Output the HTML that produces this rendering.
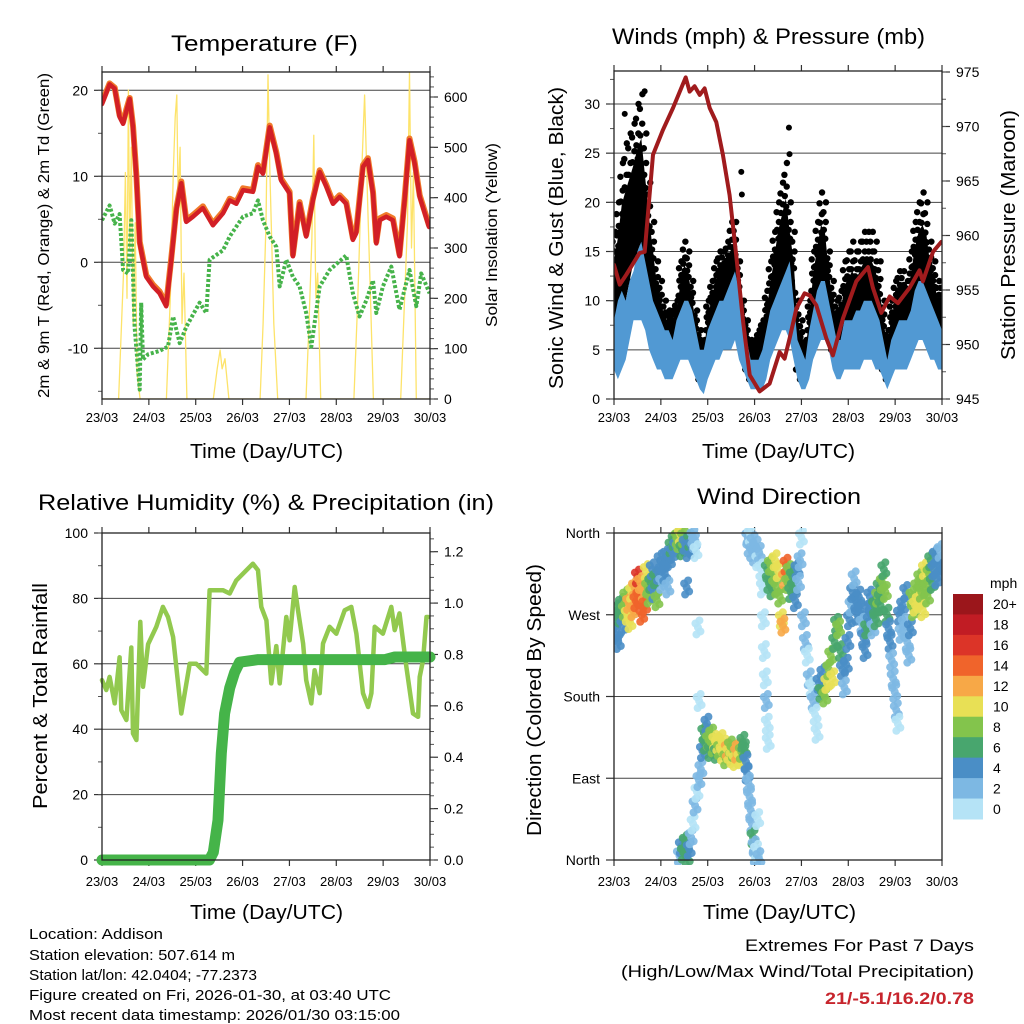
<!DOCTYPE html>
<html><head><meta charset="utf-8"><title>Weather station charts</title>
<style>
html,body{margin:0;padding:0;background:#fff;}
svg{display:block;font-family:"Liberation Sans",Arial,sans-serif;}
</style></head>
<body>
<svg id="chart" width="1024" height="1024" viewBox="0 0 1024 1024" xmlns="http://www.w3.org/2000/svg">
<rect x="0" y="0" width="1024" height="1024" fill="#fff"/>
<g id="p1"></g>
<g id="p2"></g>
<g id="p3"></g>
<g id="p4"></g>
<g id="txt">
<text x="171" y="51" font-size="22" textLength="187" lengthAdjust="spacingAndGlyphs">Temperature (F)</text>
<text x="612" y="44" font-size="22" textLength="313" lengthAdjust="spacingAndGlyphs">Winds (mph) &amp; Pressure (mb)</text>
<text x="38" y="510" font-size="22" textLength="456" lengthAdjust="spacingAndGlyphs">Relative Humidity (%) &amp; Precipitation (in)</text>
<text x="697" y="504" font-size="22" textLength="164" lengthAdjust="spacingAndGlyphs">Wind Direction</text>
<text x="190" y="458" font-size="20" textLength="153" lengthAdjust="spacingAndGlyphs">Time (Day/UTC)</text>
<text x="702" y="458" font-size="20" textLength="153" lengthAdjust="spacingAndGlyphs">Time (Day/UTC)</text>
<text x="190" y="919" font-size="20" textLength="153" lengthAdjust="spacingAndGlyphs">Time (Day/UTC)</text>
<text x="703" y="919" font-size="20" textLength="153" lengthAdjust="spacingAndGlyphs">Time (Day/UTC)</text>
<text transform="translate(49,398) rotate(-90)" font-size="16" textLength="325" lengthAdjust="spacingAndGlyphs">2m &amp; 9m T (Red, Orange) &amp; 2m Td (Green)</text>
<text transform="translate(497,327) rotate(-90)" font-size="16" textLength="184" lengthAdjust="spacingAndGlyphs">Solar Insolation (Yellow)</text>
<text transform="translate(563,389) rotate(-90)" font-size="20" textLength="302" lengthAdjust="spacingAndGlyphs">Sonic Wind &amp; Gust (Blue, Black)</text>
<text transform="translate(1015,360) rotate(-90)" font-size="20" textLength="250" lengthAdjust="spacingAndGlyphs">Station Pressure (Maroon)</text>
<text transform="translate(47,809) rotate(-90)" font-size="20" textLength="226" lengthAdjust="spacingAndGlyphs">Percent &amp; Total Rainfall</text>
<text transform="translate(541,836) rotate(-90)" font-size="20" textLength="272" lengthAdjust="spacingAndGlyphs">Direction (Colored By Speed)</text>
<text x="29" y="939" font-size="15" textLength="134" lengthAdjust="spacingAndGlyphs">Location: Addison</text>
<text x="29" y="960" font-size="15" textLength="206" lengthAdjust="spacingAndGlyphs">Station elevation: 507.614 m</text>
<text x="29" y="980" font-size="15" textLength="228" lengthAdjust="spacingAndGlyphs">Station lat/lon: 42.0404; -77.2373</text>
<text x="29" y="1000" font-size="15" textLength="362" lengthAdjust="spacingAndGlyphs">Figure created on Fri, 2026-01-30, at 03:40 UTC</text>
<text x="29" y="1020" font-size="15" textLength="371" lengthAdjust="spacingAndGlyphs">Most recent data timestamp: 2026/01/30 03:15:00</text>
<text x="745" y="951" font-size="17" textLength="229" lengthAdjust="spacingAndGlyphs">Extremes For Past 7 Days</text>
<text x="621" y="977" font-size="17" textLength="353" lengthAdjust="spacingAndGlyphs">(High/Low/Max Wind/Total Precipitation)</text>
<text x="825" y="1004" font-size="17" font-weight="bold" fill="#c7252d" textLength="149" lengthAdjust="spacingAndGlyphs">21/-5.1/16.2/0.78</text>
</g>
</svg>
<script>
// ---------- DATA ----------
const dayLabels = ["23/03","24/03","25/03","26/03","27/03","28/03","29/03","30/03"];
const tempHours = [0,3.9,6.5,9,10.8,12.5,14.2,15.9,17.6,19.3,22.7,26.1,29.5,32.9,35.5,38.1,40.6,43.2,46.6,51.7,56.8,62,65.4,68.8,72.2,77.3,79.9,82.4,85.9,89.3,91.8,96.1,97.8,101.2,104.6,108,111.5,114.9,118.3,121.7,125.1,128.5,130.2,133.7,136.2,138.8,140.5,142.2,145.6,149,152.4,155,157.5,160.1,162.7,167.5];
const temp2m = [18.4,20.7,20.2,16.9,16.1,17.6,19.0,15.7,9.9,2.2,-1.7,-2.8,-3.6,-5.1,0.3,6.1,9.2,4.7,5.3,6.3,4.3,5.7,7.2,6.8,8.4,8.2,11.1,10.3,15.7,12.6,9.5,8.0,0.7,6.8,3.0,7.2,10.5,8.8,6.8,7.6,6.8,2.6,3.4,11.1,11.9,8.0,2.2,4.9,5.3,4.9,0.7,7.2,14.2,11.5,7.6,4.1];
const temp9m = [18.6,20.8,20.3,17.1,16.3,17.8,19.1,15.9,10.1,2.4,-1.5,-2.6,-3.4,-4.9,0.5,6.3,9.4,4.9,5.5,6.5,4.5,5.9,7.4,7.0,8.6,8.4,11.3,10.5,15.9,12.8,9.7,8.2,0.9,7.0,3.2,7.4,10.7,9.0,7.0,7.8,7.0,2.8,3.6,11.3,12.1,8.2,2.4,5.1,5.5,5.1,0.9,7.4,14.4,11.7,7.8,4.3];
const dewHours = [0,3.9,6.5,9,10.8,13.3,15,16.7,19.3,20.1,21,23.6,29.5,33.8,36.4,39.8,43.2,50,53.4,55.1,62,65.4,72.2,77.3,79.9,82.4,85.9,89.3,91,94.4,97.8,101.2,104.6,107.2,111.5,116.6,125.1,128.5,131.9,135.4,138.8,140.5,143.9,148.2,152.4,157.5,161,163.5,167.8];
const dewPoint = [4.9,6.6,4.5,5.6,-0.9,-1.3,4.9,-7.5,-14.8,-4.7,-11.3,-10.7,-10.3,-9.8,-6.3,-9.4,-7.5,-4.7,-5.9,0.3,1.4,3.0,5.3,5.7,7.2,4.9,3.0,1.8,-2.8,0.3,-1.7,-2.8,-5.9,-9.8,-2.8,-0.9,0.8,-3.6,-6.3,-4.4,-2.1,-5.9,-2.8,-0.5,-5.5,-0.9,-5.1,-1.3,-3.6];
const solarHours = [0,8.5,11,12,12.8,13.5,14.2,15,16,17,18,19.5,33,35,36.5,37.5,38.3,39,40,41,42,43.5,57,59,60.5,61.5,63,65,81,82.5,84,85,86,87,88,90,104.5,106,107.5,108.5,109.5,110.5,112,129,131,133,134.5,136,137.5,139,153,155,156.5,157.5,158.5,159.5,161,168];
const solarValues = [0,0,250,450,200,614,300,500,150,350,50,0,0,200,450,560,604,400,500,150,250,0,0,60,97,60,80,0,0,150,350,644,450,300,150,0,0,150,320,524,200,250,0,0,200,450,604,400,200,0,0,200,350,650,300,450,0,0];
const windHours = [0,2,4,6,8,10,12,14,16,18,20,22,24,26,28,30,32,34,36,38,40,42,44,46,48,50,52,54,56,58,60,62,64,66,68,70,72,74,76,78,80,82,84,86,88,90,92,94,96,98,100,102,104,106,108,110,112,114,116,118,120,122,124,126,128,130,132,134,136,138,140,142,144,146,148,150,152,154,156,158,160,162,164,166,168];
const sonicLo = [3,2,3,4,6,8,8,8,7,5,4,3,3,2,2,2,3,4,4,4,3,2,1,0.5,2,3,4,4,5,5,5,6,4,3,2,1,1,1,1,2,4,5,6,7,7,6,4,2,1,1,2,4,5,6,6,5,3,2,2,3,3,3,3,3,4,4,4,3,3,2,1,2,3,3,3,3,4,5,6,6,5,4,4,3,3];
const sonicHi = [8,10,11,10,12,13,15,16,14,12,10,9,8,7,7,6,8,9,10,10,9,7,5,5,7,8,9,10,10,11,12,13,11,8,6,4,4,4,5,7,9,10,11,12,13,14,10,6,5,4,7,9,11,12,12,10,8,6,6,8,8,8,9,9,10,10,10,9,8,6,4,6,7,8,8,8,9,11,12,12,11,10,9,8,7];
const gustLo = [7,8,10,10,12,14,15,16,12,10,8,6,5,4,4,4,5,7,8,8,6,4,2,2,4,6,7,8,9,9,9,9,7,5,3,2,2,2,3,4,6,8,10,11,12,10,7,3,2,2,4,7,9,10,10,8,5,4,4,5,6,6,6,6,7,7,7,6,5,3,2,4,5,6,6,5,7,9,10,10,9,8,7,5,5];
const gustHi = [17,20,24,26,27,28,30,31,27,22,18,14,12,10,9,9,10,14,16,15,12,9,7,6,10,12,14,15,15,16,18,18,14,10,8,6,6,7,8,11,14,17,20,22,24,20,17,10,8,6,10,15,18,21,20,15,12,10,11,14,15,16,15,16,17,17,17,16,14,10,7,10,12,13,13,12,15,18,20,21,20,16,14,12,12];
const gustOutHours = [5.5,15.7,65.2,65.5,89.6,89.9];
const gustOutValues = [29,31.3,23.1,20.8,27.6,24.9];
const presHours = [0,2.9,6.3,13.1,15.7,20,25.1,30.2,36.7,38.7,41.3,43.9,46.4,49,52.4,55.8,59.2,62.6,66.1,69.5,74.6,79.7,84.8,87.4,90,93.4,97.6,100.2,103.6,108.7,112.1,117.3,124.1,130.1,132.6,136.9,141.2,145.4,151.4,156.5,158.2,163.4,167.6];
const presValues = [957.3,955.5,956.4,958.4,958.5,967.4,969.7,971.7,974.5,973.2,973.7,972.9,973.5,971.7,970.4,967.4,963.7,958.2,952.1,947.2,945.7,946.4,949.3,948.7,950.6,953.3,954.7,954.5,953.6,950.6,949.0,952.4,955.8,957.1,955.2,952.9,954.4,953.8,955.2,956.8,955.8,958.5,959.4];
const rhHours = [0,2.2,3.9,6.5,9.0,9.9,12.5,15.0,15.9,17.6,19.6,21.0,23.6,27.8,31.2,33.8,36.4,40.6,44.9,48.3,53.4,55.1,61.9,65.4,68.8,77.3,79.9,81.6,84.2,86.7,89.3,91.0,94.4,96.1,98.7,100.4,103.0,104.6,107.2,108.9,111.5,113.2,116.6,120.0,124.3,127.7,130.3,133.7,136.3,138.0,139.7,143.9,148.2,149.9,152.4,155.9,159.3,161.9,162.7,164.4,166.2,167.0];
const rhValues = [55,52,56,47.9,62,45.8,42.8,65,38.7,36.7,72.8,53,66,71.3,77.4,74.3,68.2,44.8,60,60,57,82.5,82.5,81.5,85.5,90.6,88.6,77.4,73.3,54,65.4,54,74.3,67.2,83.5,76.4,66.2,55,47.9,58,51,66.2,71.3,69.2,76.4,77.4,69.2,51,46.8,51,71.3,69.2,77.4,70.3,75.4,59,44.8,43.8,56,61,74.3,74.3];
const rainHours = [0,55,57,59.4,61.1,62.8,65.4,67.9,70.5,80,145,150,168];
const rainValues = [0,0,0.03,0.155,0.415,0.57,0.67,0.73,0.77,0.78,0.78,0.79,0.79];
const wdHours = [0,0.8,1.5,2.2,3,3.8,4.5,5.3,6,6.8,7.5,8.2,9,9.7,10.5,11.2,12,12.7,13.5,14.2,15,15.7,16.5,17.2,18,18.8,19.6,20.4,21.2,22,22.8,23.6,24.4,25.2,26,26.8,27.6,28.4,29.2,30,30.8,31.6,32.4,33.2,34,34.8,35.6,36.4,37.2,38,38.8,39.6,40.4,41.2,42,43,43.6,33.5,34.5,35.5,36.5,37.5,38.5,39.5,40.5,41.5,42.5,43.5,44.5,45.3,46,46.8,47.6,48.4,49.2,50,50.8,51.6,52.4,53.2,54,54.8,55.6,56.4,57.2,58,58.8,59.6,60.4,61.2,62,62.8,63.6,64.4,65.2,66,66.8,67.6,68.2,68.8,69.4,70,70.6,71.2,71.8,72.4,73,73.6,74.2,68.5,69.2,69.8,70.5,71.2,72,72.8,73.6,74.4,75.2,76,76.5,77,77.5,78,78.5,79,78.5,79.3,80.1,80.9,81.7,82.5,83.3,84.1,84.9,85.7,86.5,87.3,88.1,88.9,89.7,90.5,91.3,92.1,92.9,93.7,94.5,95.3,96,97,98,99,100,101,102,103,104,105,106,107,108,109,110,111,112,113,114,115,116,117,118,119,119.8,120.6,121.4,122.2,123,123.8,124.6,125.4,126.2,127,127.8,128.6,129.4,130.2,131,131.8,132.6,133.4,134.2,135,135.8,136.6,137.4,138.2,139,139.8,140.6,141.4,142.2,143,143.8,144.6,145.4,146.2,147,147.8,148.6,149.4,150.2,151,151.8,152.6,153.4,154.2,155,155.8,156.6,157.4,158.2,159,159.8,160.6,161.4,162.2,163,163.8,164.6,165.4,166.2,167,167.8];
const wdDirs = [262,248,275,240,268,282,258,275,290,270,283,262,295,275,300,285,312,290,305,270,295,280,318,300,290,305,320,295,310,286,315,330,305,325,315,335,300,330,345,338,352,345,355,350,358,342,355,348,300,340,352,345,356,350,340,256,175,5,15,8,20,3,12,25,40,60,75,88,100,120,140,128,150,132,120,138,125,131,118,128,122,132,117,126,112,122,118,125,113,120,110,118,123,112,119,130,122,108,95,85,70,55,40,25,15,5,10,45,2,355,345,358,340,350,335,345,330,338,320,300,265,230,200,175,150,130,320,305,325,298,315,330,300,318,290,265,258,310,325,305,318,295,312,300,285,320,305,330,355,265,240,225,200,190,175,160,140,195,185,205,180,195,210,225,200,240,260,255,230,210,190,215,240,265,280,295,310,285,270,290,275,260,245,230,255,275,290,270,255,280,265,290,300,280,305,320,295,270,255,240,220,200,185,165,150,270,250,280,260,295,240,225,255,290,275,280,300,285,310,295,275,320,300,290,315,330,305,320,335,310,325,340,320];
const wdSpeeds = [5,4,6,5,7,6,5,8,9,10,12,11,11,13,12,14,16,14,13,15,12,14,10,9,8,6,5,5,6,8,5,4,3,4,4,5,3,5,6,4,7,5,8,9,10,6,8,5,4,5,6,4,2,3,1,1,1,3,5,7,6,7,4,3,1,2,1,3,3,4,7,6,5,8,6,8,9,10,7,10,8,11,10,10,9,12,11,8,10,9,11,12,13,10,8,7,6,5,4,3,3,2,3,6,3,2,1,1,3,2,3,1,2,3,2,2,1,2,1,1,1,1,1,2,1,1,6,7,8,6,9,10,8,10,9,11,12,12,14,9,8,6,7,6,5,4,3,2,1,3,2,1,2,1,3,1,1,4,6,5,8,10,9,8,10,7,6,8,6,4,3,4,5,4,3,4,3,4,5,4,4,3,4,5,6,4,5,4,3,6,7,8,6,7,8,7,9,6,5,4,3,2,3,2,1,4,3,4,3,4,3,2,4,8,9,10,9,10,8,9,11,10,8,9,8,7,6,5,4,5,4,3,4];
const speedLabels = ["20+","18","16","14","12","10","8","6","4","2","0"];
const speedColors = ["#9b161b","#c11c24","#dc3428","#f0642b","#f7a847","#e8e055","#83c44c","#48a66e","#4a8ec6","#7db8e3","#b5e3f6"];

// ---------- HELPERS ----------
const NS = "http://www.w3.org/2000/svg";
function mk(parent, tag, attrs) {
  const e = document.createElementNS(NS, tag);
  for (const k in attrs) e.setAttribute(k, attrs[k]);
  parent.appendChild(e);
  return e;
}
function lin(d0, d1, r0, r1) { return v => r0 + (v - d0) / (d1 - d0) * (r1 - r0); }

function frameAndTimeAxis(g, L, R, T, B, tickY) {
  const x = lin(0, 168, L, R);
  for (let i = 0; i < dayLabels.length; i++) {
    const px = x(i * 24);
    const tk = mk(g, "line", {x1: px, x2: px, y1: B, y2: B + 6, stroke: "#333", "stroke-width": 1.2});
    
    
    const tt = mk(g, "line", {x1: px, x2: px, y1: T - 6, y2: T, stroke: "#333", "stroke-width": 1.2});
    
    
    const lb = mk(g, "text", {x: px, y: tickY, "font-size": 13, "text-anchor": "middle"});
    lb.textContent = dayLabels[i];
    
    
  }
  return x;
}
function box(g, L, R, T, B) {
  const r = mk(g, "rect", {x: L, y: T, width: R - L, height: B - T, fill: "none", stroke: "#222", "stroke-width": 1.3});
  
  
}
function yAxis(g, side, ticks, labels, sc, L, R, grid, minorStep, d0, d1) {
  const ax = side === "left" ? L : R;
  const dir = side === "left" ? -1 : 1;
  for (let i = 0; i < ticks.length; i++) {
    const py = sc(ticks[i]);
    if (grid) {
      const gl = mk(g, "line", {x1: L, x2: R, y1: py, y2: py, stroke: "#444", "stroke-width": 1});
      
      
    }
    const tk = mk(g, "line", {x1: ax, x2: ax + dir * 8, y1: py, y2: py, stroke: "#333", "stroke-width": 1.2});
    
    
    const lb = mk(g, "text", {x: ax + dir * 14, y: py + 5, "font-size": 14, "text-anchor": side === "left" ? "end" : "start"});
    lb.textContent = labels[i];
    
    
  }
  if (minorStep) {
    for (let v = d0; v <= d1 + 1e-9; v += minorStep) {
      const py = sc(v);
      const mt = mk(g, "line", {x1: ax, x2: ax + dir * 4, y1: py, y2: py, stroke: "#555", "stroke-width": 1});
      
      
    }
  }
}
function poly(g, xs, ys, sx, sy, attrs, name) {
  const pts = xs.map((h, i) => sx(h).toFixed(1) + "," + sy(ys[i]).toFixed(1)).join(" ");
  const p = mk(g, "polyline", Object.assign({points: pts, fill: "none", "stroke-linejoin": "round", "stroke-linecap": "round"}, attrs));
  
  
  return p;
}
function clip(id, L, R, T, B) {
  const defs = mk(document.getElementById("chart"), "defs", {});
  const c = mk(defs, "clipPath", {id: id});
  mk(c, "rect", {x: L, y: T, width: R - L, height: B - T});
}

// ---------- PANEL 1 ----------
(function(){
  const g = document.getElementById("p1");
  const L = 102, R = 430, T = 72, B = 399;
  const x = frameAndTimeAxis(g, L, R, T, B, 422);
  const yT = lin(0, 10, 262.3, 176.3);
  const yS = lin(0, 600, 399, 97);
  yAxis(g, "left", [-10, 0, 10, 20], ["-10", "0", "10", "20"], yT, L, R, true, 5, -15, 20);
  yAxis(g, "right", [0, 100, 200, 300, 400, 500, 600], ["0", "100", "200", "300", "400", "500", "600"], yS, L, R, false, 20, 0, 640);
  clip("c1", L, R, T, B);
  const d = mk(g, "g", {"clip-path": "url(#c1)"});
  poly(d, solarHours, solarValues, x, yS, {stroke: "#fde36a", "stroke-width": 1.3}, "solar-line");
  poly(d, dewHours, dewPoint, x, yT, {stroke: "#46b34a", "stroke-width": 4, "stroke-dasharray": "3 2", "stroke-linecap": "butt"}, "dewpoint-line");
  poly(d, tempHours, temp9m, x, yT, {stroke: "#f07a2a", "stroke-width": 6}, "temp-9m-line");
  poly(d, tempHours, temp2m, x, yT, {stroke: "#d21f26", "stroke-width": 4.5}, "temp-2m-line");
  box(g, L, R, T, B);
})();

// ---------- PANEL 2 ----------
(function(){
  const g = document.getElementById("p2");
  const L = 614, R = 942, T = 71, B = 399;
  const x = frameAndTimeAxis(g, L, R, T, B, 422);
  const yW = lin(0, 30, 399, 104);
  const yP = lin(945, 975, 399, 72);
  yAxis(g, "left", [0, 5, 10, 15, 20, 25, 30], ["0", "5", "10", "15", "20", "25", "30"], yW, L, R, true, 2.5, 0, 32.5);
  yAxis(g, "right", [945, 950, 955, 960, 965, 970, 975], ["945", "950", "955", "960", "965", "970", "975"], yP, L, R, false, 2.5, 945, 975);
  clip("c2", L, R, T, B);
  const d = mk(g, "g", {"clip-path": "url(#c2)"});
  // dense core of gust cloud
  const core = 0.7;
  const gpts = windHours.map((h, i) => x(h).toFixed(1) + "," + yW(gustLo[i] + (gustHi[i] - gustLo[i]) * core).toFixed(1))
    .concat(windHours.map((h, i) => x(h).toFixed(1) + "," + yW(gustLo[i]).toFixed(1)).reverse()).join(" ");
  const gb = mk(d, "polygon", {points: gpts, fill: "#000"});
  
  
  const fr = [0, 0.12, 0.25, 0.38, 0.5, 0.63, 0.72, 0.8, 0.9, 1];
  const off = [-1.5, 1.2, -0.6, 1.6, -1.8, 0.4, -1.0, 0.9, -1.4, 1.1];
  for (let i = 0; i < windHours.length; i++) {
    for (let k = 0; k < fr.length; k++) {
      const v = gustLo[i] + (gustHi[i] - gustLo[i]) * fr[k];
      const c = mk(d, "circle", {cx: x(windHours[i]) + off[k], cy: yW(v), r: 3.2, fill: "#000"});
      
      
    }
  }
  for (let i = 0; i < gustOutHours.length; i++) {
    const c = mk(d, "circle", {cx: x(gustOutHours[i]), cy: yW(gustOutValues[i]), r: 3, fill: "#000"});
    
    
  }
  const bpts = windHours.map((h, i) => x(h).toFixed(1) + "," + yW(sonicHi[i]).toFixed(1))
    .concat(windHours.map((h, i) => x(h).toFixed(1) + "," + yW(sonicLo[i]).toFixed(1)).reverse()).join(" ");
  const bb = mk(d, "polygon", {points: bpts, fill: "#5199d3"});
  
  
  poly(d, presHours, presValues, x, yP, {stroke: "#a01b1d", "stroke-width": 4}, "pressure-line");
  box(g, L, R, T, B);
})();

// ---------- PANEL 3 ----------
(function(){
  const g = document.getElementById("p3");
  const L = 102, R = 430, T = 533, B = 860;
  const x = frameAndTimeAxis(g, L, R, T, B, 886);
  const yR = lin(0, 100, 860, 533);
  const yP = lin(0, 1.2, 860, 551.7);
  yAxis(g, "left", [0, 20, 40, 60, 80, 100], ["0", "20", "40", "60", "80", "100"], yR, L, R, true, 10, 0, 100);
  yAxis(g, "right", [0, 0.2, 0.4, 0.6, 0.8, 1.0, 1.2], ["0.0", "0.2", "0.4", "0.6", "0.8", "1.0", "1.2"], yP, L, R, false, 0.05, 0, 1.25);
  const d = mk(g, "g", {});
  poly(d, rhHours, rhValues, x, yR, {stroke: "#92c94f", "stroke-width": 4.5}, "humidity-line");
  poly(d, rainHours, rainValues, x, yP, {stroke: "#45b449", "stroke-width": 11}, "precip-line");
  box(g, L, R, T, B);
})();

// ---------- PANEL 4 ----------
(function(){
  const g = document.getElementById("p4");
  const L = 614, R = 942, T = 533, B = 860;
  const x = frameAndTimeAxis(g, L, R, T, B, 886);
  const yD = lin(0, 360, 860, 533);
  yAxis(g, "left", [0, 90, 180, 270, 360], ["North", "East", "South", "West", "North"], yD, L, R, true, 0, 0, 0);
  clip("c4", L, R, T - 5, B + 5);
  const d = mk(g, "g", {"clip-path": "url(#c4)"});
  const jx = [0, 2.5, -2.5, 1.5, -1.5];
  const jy = [0, 4, -4, -7, 7];
  for (let i = 0; i < wdHours.length; i++) {
    const bin = Math.min(10, Math.floor(wdSpeeds[i] / 2));
    for (let k = 0; k < jx.length; k++) {
      const c = mk(d, "circle", {cx: x(wdHours[i]) + jx[k], cy: yD(wdDirs[i]) + jy[k], r: 4, fill: speedColors[10 - bin], "fill-opacity": 0.9});
      
      
    }
  }
  box(g, L, R, T, B);
  const cb = mk(g, "g", {});
  
  
  const h = (819 - 594) / speedLabels.length;
  for (let i = 0; i < speedLabels.length; i++) {
    const r = mk(cb, "rect", {x: 953, y: 594 + i * h, width: 30, height: h + 0.5, fill: speedColors[i]});
    
    
    const t = mk(cb, "text", {x: 993, y: 594 + i * h + h / 2 + 5, "font-size": 14});
    t.textContent = speedLabels[i];
    
    
  }
  const u = mk(cb, "text", {x: 990, y: 588, "font-size": 14});
  u.textContent = "mph";
  
  
})();
</script>
</body></html>
